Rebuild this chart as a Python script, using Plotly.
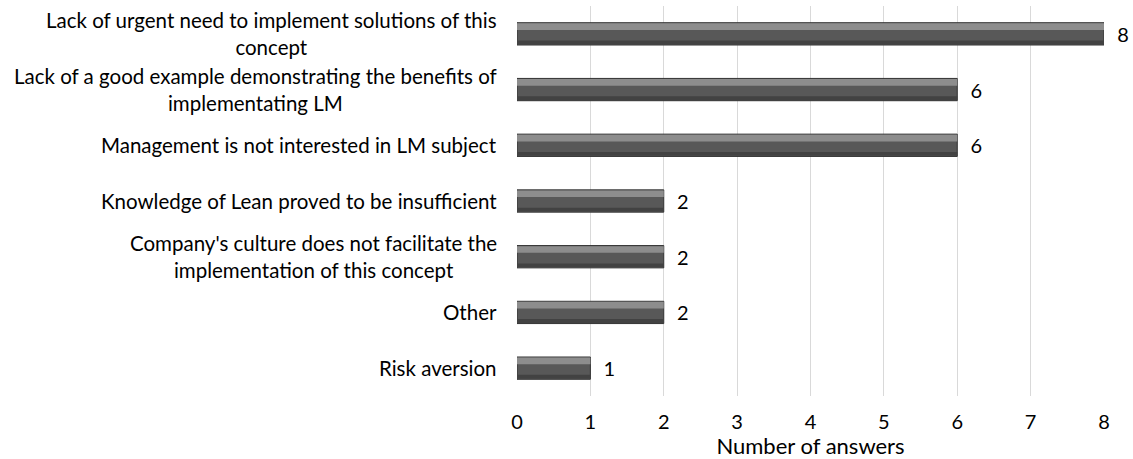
import plotly.graph_objects as go

categories = [
    "Lack of urgent need to implement solutions of this<br>concept",
    "Lack of a good example demonstrating the benefits of<br>implementating LM",
    "Management is not interested in LM subject",
    "Knowledge of Lean proved to be insufficient",
    "Company's culture does not facilitate the<br>implementation of this concept",
    "Other",
    "Risk aversion",
]
values = [8, 6, 6, 2, 2, 2, 1]
x_ticks = [0, 1, 2, 3, 4, 5, 6, 7, 8]

FONT = "Lato, Carlito, Calibri, sans-serif"

fig = go.Figure()
# main bar body
fig.add_trace(go.Bar(
    y=categories, x=values, orientation="h",
    width=0.4,
    marker=dict(color="#585858", line=dict(color="#333333", width=1)),
    text=["  " + str(v) for v in values], textposition="outside",
    constraintext="none",
    textfont=dict(size=20, color="#000000", family=FONT),
    cliponaxis=False,
    showlegend=False,
))
# lighter bevel highlight on upper part
fig.add_trace(go.Bar(
    y=categories, x=values, orientation="h",
    width=0.12, offset=-0.19,
    marker=dict(color="#8d8d8d", line=dict(width=0)),
    showlegend=False, hoverinfo="skip",
))
# darker bottom edge
fig.add_trace(go.Bar(
    y=categories, x=values, orientation="h",
    width=0.07, offset=0.12,
    marker=dict(color="#424242", line=dict(width=0)),
    showlegend=False, hoverinfo="skip",
))

# category labels as centered multi-line annotations
for c in categories:
    fig.add_annotation(
        x=0, xref="paper", y=c, yref="y", text=c, showarrow=False,
        xanchor="right", yanchor="middle", align="center", xshift=-18,
        font=dict(size=20.5, family=FONT, color="#000000"),
    )

fig.update_layout(
    width=1133, height=459,
    margin=dict(l=517, r=29, t=6, b=63),
    barmode="overlay",
    plot_bgcolor="white", paper_bgcolor="white",
    font=dict(family=FONT, size=20, color="#000000"),
    xaxis=dict(
        range=[0, 8], tickvals=x_ticks, showgrid=True, gridcolor="#d9d9d9",
        gridwidth=1, zeroline=False, showline=False, ticks="",
        ticklabelstandoff=12,
        tickfont=dict(size=20), title=dict(text="Number of answers", font=dict(size=22), standoff=3),
    ),
    yaxis=dict(
        autorange="reversed", showgrid=False, showline=False, ticks="",
        showticklabels=False,
    ),
)

fig.write_html("out.html")
